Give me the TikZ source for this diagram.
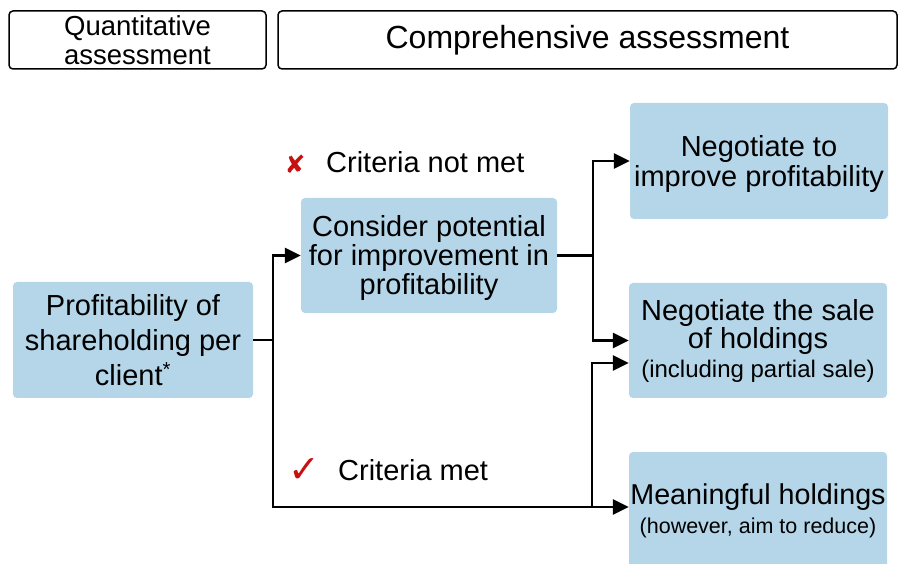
\documentclass[tikz,border=0pt]{standalone}
\usepackage{fontspec}
\setmainfont{Liberation Sans}
\newfontfamily\symfont{DejaVu Sans}
\usetikzlibrary{arrows.meta,calc}
\definecolor{boxblue}{RGB}{180,214,232}
\definecolor{markred}{RGB}{200,16,16}
\tikzset{
  hdr/.style={draw=black,line width=1.5pt,rounded corners=4pt,fill=white,inner sep=0pt},
  bluebox/.style={fill=boxblue,rounded corners=4pt,inner sep=0pt,align=center},
  boxtext/.style={align=center,inner sep=0pt},
  arr/.style={line width=2.8pt,-{Triangle[length=16pt,width=15pt]}},
  ln/.style={line width=2.8pt},
  big/.style={font=\fontsize{29}{29}\selectfont},
}
\begin{document}
\begin{tikzpicture}[x=1pt,y=-1pt]
\useasboundingbox (0,0) rectangle (898,564);
% headers
\node[hdr,minimum width=257pt,minimum height=58pt,align=center,font=\fontsize{27.5}{28.5}\selectfont] (h1) at (137.5,40) {Quantitative\\assessment};
\node[hdr,minimum width=619pt,minimum height=58pt,font=\fontsize{32}{32}\selectfont] (h2) at (587.5,40) {Comprehensive assessment};
% boxes
\node[bluebox,minimum width=240pt,minimum height=116pt,font=\fontsize{29}{35}\selectfont] (prof) at (133,340) {Profitability of\\shareholding per\\client\textsuperscript{*}};
\node[bluebox,minimum width=256pt,minimum height=115pt,
  label={[boxtext,big,yshift=-2.5pt]center:{Consider potential\\for improvement in\\profitability}}] (cons) at (429,255.5) {};
\node[bluebox,minimum width=258pt,minimum height=116pt,
  label={[boxtext,font=\fontsize{29}{30}\selectfont,yshift=-3pt]center:{Negotiate to\\improve profitability}}] (neg1) at (759,161) {};
\node[bluebox,minimum width=258pt,minimum height=115pt,font=\fontsize{29}{28}\selectfont] (neg2) at (758,340.5) {Negotiate the sale\\of holdings\\[1pt]\fontsize{24}{26}\selectfont (including partial sale)};
\node[bluebox,minimum width=258pt,minimum height=118pt,font=\fontsize{28.7}{29}\selectfont] (mean) at (758,511) {Meaningful holdings\\\fontsize{21.5}{25}\selectfont (however, aim to reduce)};
% labels
\node[text=markred,font=\symfont\fontsize{25}{25}\selectfont] (xmark) at (295,164) {✘};
\node[big,anchor=west,inner sep=0pt] (notmet) at (326,162) {Criteria not met};
\node[text=markred,font=\symfont\fontsize{38}{38}\selectfont] (cmark) at (304,471) {✓};
\node[big,anchor=west,inner sep=0pt] (met) at (338,470) {Criteria met};
% connectors
\coordinate (j1) at (273,340);
\coordinate (j2) at (593,255.5);
\coordinate (j3) at (592,507);
\draw[ln] (prof.east) -- (j1);
\draw[arr] (j1) |- (cons.west);
\draw[arr] (j1) |- ([yshift=4pt]mean.west);
\draw[ln] (cons.east) -- (j2);
\draw[arr] (j2) |- (neg1.west);
\draw[arr] (j2) |- (neg2.west);
\draw[arr] (j3) |- ([yshift=-22.5pt]neg2.west);
\end{tikzpicture}
\end{document}
